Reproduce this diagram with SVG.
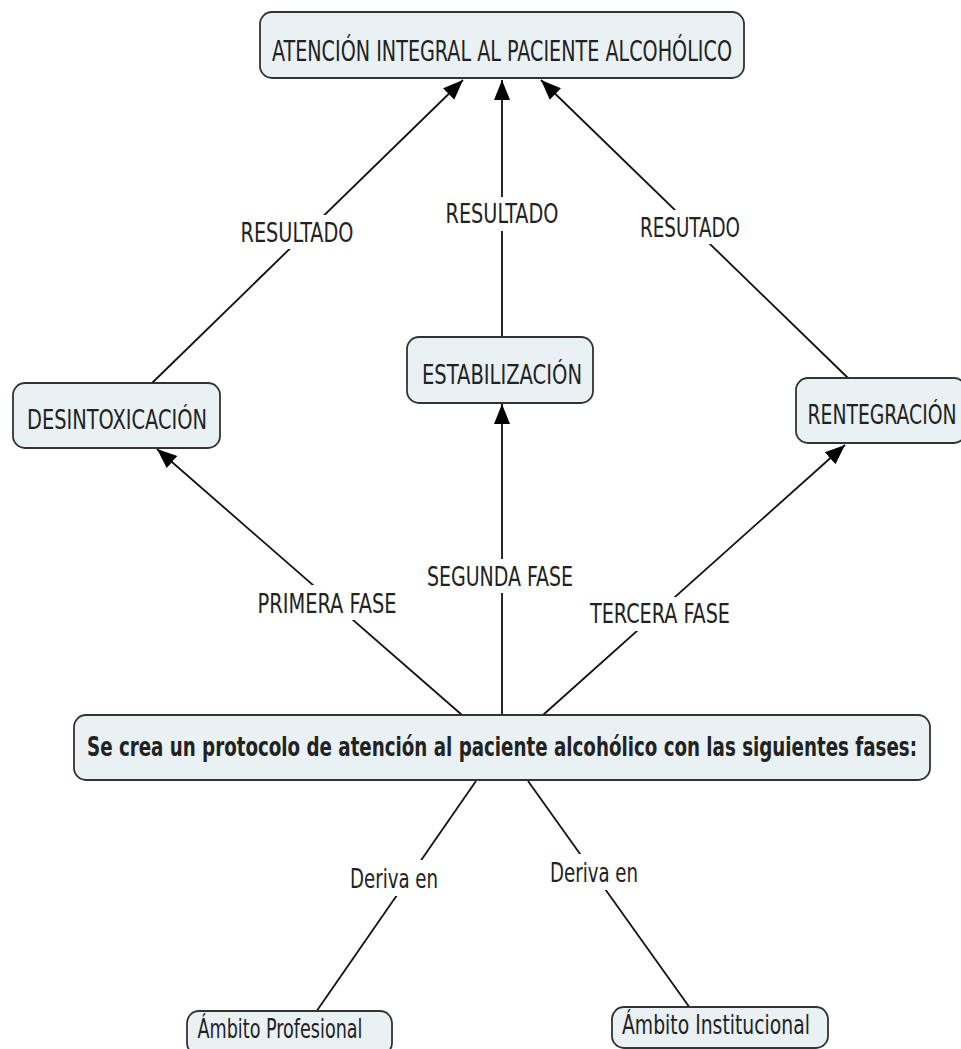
<svg xmlns="http://www.w3.org/2000/svg" width="961" height="1049" viewBox="0 0 961 1049">
  <defs>
    <marker id="arrow" viewBox="0 0 20 20" refX="20" refY="10" markerWidth="20" markerHeight="20" markerUnits="userSpaceOnUse" orient="auto">
      <path d="M0,2 L20,10 L0,18 Z" fill="#000"/>
    </marker>
    <style>
      .node rect { fill: #e9f1f4; stroke: #333; stroke-width: 1.8; }
      .node text { font-family: "DejaVu Sans Condensed", "DejaVu Sans", sans-serif; font-size: 27px; fill: #222; text-anchor: middle; }
      .node text.bold { font-weight: bold; }
      .conn line { stroke: #111; stroke-width: 1.8; fill: none; }
      .conn line.arr { marker-end: url(#arrow); }
      .lbl rect { fill: #fff; }
      .lbl text { font-family: "DejaVu Sans Condensed", "DejaVu Sans", sans-serif; font-size: 27px; fill: #222; text-anchor: middle; }
    </style>
  </defs>
  <rect width="961" height="1049" fill="#fff"/>

  <!-- connectors -->
  <g id="connectors" class="conn">
    <line class="arr" x1="152" y1="383" x2="463" y2="80"/>
    <line class="arr" x1="502" y1="337" x2="502" y2="80"/>
    <line class="arr" x1="848" y1="378" x2="541" y2="80"/>
    <line class="arr" x1="462" y1="715" x2="157" y2="449"/>
    <line class="arr" x1="502" y1="715" x2="502" y2="404"/>
    <line class="arr" x1="543" y1="715" x2="845" y2="445"/>
    <line x1="476" y1="781" x2="316" y2="1012"/>
    <line x1="528" y1="781" x2="690" y2="1008"/>
  </g>

  <!-- connector labels -->
  <g id="labels" class="lbl">
    <rect x="236" y="215" width="121" height="34"/>
    <text x="297" y="242" textLength="113" lengthAdjust="spacingAndGlyphs">RESULTADO</text>
    <rect x="441" y="197" width="121" height="34"/>
    <text x="502" y="223" textLength="113" lengthAdjust="spacingAndGlyphs">RESULTADO</text>
    <rect x="636" y="210" width="108" height="34"/>
    <text x="690" y="237" textLength="100" lengthAdjust="spacingAndGlyphs">RESUTADO</text>
    <rect x="254" y="585" width="147" height="35"/>
    <text x="327" y="613" textLength="139" lengthAdjust="spacingAndGlyphs">PRIMERA FASE</text>
    <rect x="423" y="559" width="154" height="34"/>
    <text x="500" y="586" textLength="146" lengthAdjust="spacingAndGlyphs">SEGUNDA FASE</text>
    <rect x="586" y="597" width="148" height="34"/>
    <text x="660" y="623" textLength="140" lengthAdjust="spacingAndGlyphs">TERCERA FASE</text>
    <rect x="346" y="860" width="96" height="36"/>
    <text x="394" y="888" textLength="88" lengthAdjust="spacingAndGlyphs">Deriva en</text>
    <rect x="546" y="854" width="96" height="36"/>
    <text x="594" y="882" textLength="88" lengthAdjust="spacingAndGlyphs">Deriva en</text>
  </g>

  <!-- nodes -->
  <g id="atencion-integral" class="node">
    <rect x="260" y="12" width="484" height="66" rx="12"/>
    <text x="502" y="61" textLength="460" lengthAdjust="spacingAndGlyphs" style="font-size:28px">ATENCIÓN INTEGRAL AL PACIENTE ALCOHÓLICO</text>
  </g>
  <g id="desintoxicacion" class="node">
    <rect x="13" y="383" width="207" height="65" rx="12"/>
    <text x="117" y="429" textLength="180" lengthAdjust="spacingAndGlyphs">DESINTOXICACIÓN</text>
  </g>
  <g id="estabilizacion" class="node">
    <rect x="407" y="337" width="186" height="66" rx="12"/>
    <text x="502" y="384" textLength="160" lengthAdjust="spacingAndGlyphs">ESTABILIZACIÓN</text>
  </g>
  <g id="rentegracion" class="node">
    <rect x="796" y="378" width="170" height="65" rx="12"/>
    <text x="882" y="424" textLength="149" lengthAdjust="spacingAndGlyphs">RENTEGRACIÓN</text>
  </g>
  <g id="protocolo" class="node">
    <rect x="74" y="715" width="856" height="65" rx="12"/>
    <text class="bold" x="502" y="756" textLength="830" lengthAdjust="spacingAndGlyphs">Se crea un protocolo de atención al paciente alcohólico con las siguientes fases:</text>
  </g>
  <g id="ambito-profesional" class="node">
    <rect x="187" y="1011" width="205" height="44" rx="12"/>
    <text x="280" y="1038" textLength="165" lengthAdjust="spacingAndGlyphs">Ámbito Profesional</text>
  </g>
  <g id="ambito-institucional" class="node">
    <rect x="612" y="1007" width="216" height="41" rx="12"/>
    <text x="716" y="1034" textLength="188" lengthAdjust="spacingAndGlyphs">Ámbito Institucional</text>
  </g>
</svg>
